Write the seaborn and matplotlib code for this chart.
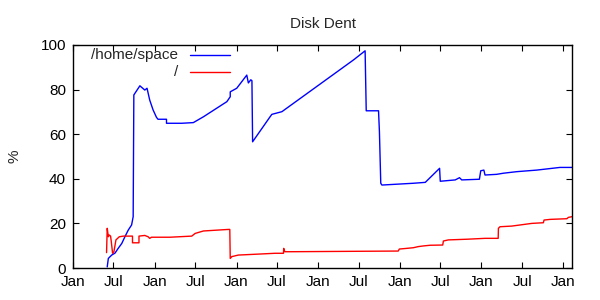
import matplotlib
matplotlib.use("Agg")
import matplotlib.pyplot as plt
import matplotlib.dates as mdates
import pandas as pd
import seaborn as sns

home_dates = ["2007-06-03", "2007-06-08", "2007-06-23", "2007-07-08", "2007-07-22", "2007-08-07",
              "2007-08-21", "2007-09-05", "2007-09-20", "2007-09-27", "2007-09-30", "2007-10-27",
              "2007-11-18", "2007-11-28", "2007-12-10", "2007-12-25", "2008-01-09", "2008-01-16",
              "2008-02-23", "2008-02-23", "2008-05-01", "2008-06-22", "2008-08-06", "2008-11-19",
              "2008-12-04", "2008-12-04", "2009-01-02", "2009-02-16", "2009-02-23", "2009-03-06",
              "2009-03-11", "2009-03-14", "2009-05-31", "2009-06-08", "2009-07-23", "2010-06-08",
              "2010-07-30", "2010-08-04", "2010-09-28", "2010-10-02", "2010-10-08", "2010-10-13",
              "2011-03-03", "2011-04-25", "2011-06-28", "2011-07-01", "2011-09-06", "2011-09-25",
              "2011-10-05", "2011-12-23", "2011-12-29", "2012-01-12", "2012-01-17", "2012-03-09",
              "2012-04-08", "2012-06-07", "2012-09-04", "2012-12-17", "2013-02-08"]
home_vals = [0.5, 4.3, 5.8, 6.7, 8.8, 11.0,
             14.0, 17.0, 19.3, 23.0, 77.6, 81.7,
             79.8, 80.6, 75.3, 70.9, 67.6, 66.7,
             66.7, 64.9, 64.9, 65.2, 67.8, 74.6,
             76.8, 79.0, 80.6, 86.5, 83.0, 84.4,
             84.0, 56.6, 67.8, 68.9, 70.1, 93.3,
             97.4, 70.5, 70.5, 61.1, 38.0, 37.2,
             38.0, 38.4, 44.7, 38.9, 39.5, 40.5,
             39.5, 39.8, 43.6, 43.9, 41.7, 42.0,
             42.5, 43.2, 43.9, 45.1, 45.1]

root_dates = ["2007-05-31", "2007-06-03", "2007-06-08", "2007-06-12", "2007-06-18", "2007-06-21",
              "2007-06-27", "2007-07-03", "2007-07-12", "2007-07-27", "2007-08-14", "2007-09-24",
              "2007-09-24", "2007-10-23", "2007-10-23", "2007-11-18", "2007-12-03", "2007-12-10",
              "2007-12-18", "2008-03-09", "2008-06-15", "2008-06-30", "2008-08-06", "2008-11-26",
              "2008-12-02", "2008-12-04", "2008-12-11", "2009-01-09", "2009-04-23", "2009-06-22",
              "2009-07-30", "2009-07-31", "2009-08-05", "2009-08-29", "2010-07-07", "2010-12-25",
              "2010-12-30", "2011-02-01", "2011-03-03", "2011-03-25", "2011-04-17", "2011-05-17",
              "2011-07-12", "2011-07-15", "2011-08-06", "2011-10-28", "2012-01-17", "2012-03-16",
              "2012-03-17", "2012-03-24", "2012-05-16", "2012-07-22", "2012-08-13", "2012-10-04",
              "2012-10-07", "2012-11-03", "2013-01-17", "2013-01-24", "2013-02-08"]
root_vals = [6.9, 17.8, 14.0, 14.8, 14.3, 12.0,
             6.6, 7.3, 12.6, 14.0, 14.3, 14.3,
             11.3, 11.3, 14.3, 14.6, 14.0, 13.3,
             13.8, 13.8, 14.3, 15.5, 16.6, 17.3,
             17.3, 4.3, 5.1, 5.8, 6.3, 6.6,
             6.6, 8.8, 7.3, 7.3, 7.5, 7.6,
             8.5, 8.8, 9.1, 9.6, 9.9, 10.2,
             10.3, 12.1, 12.6, 12.9, 13.3, 13.3,
             17.8, 18.5, 18.8, 19.7, 20.0, 20.3,
             21.5, 21.8, 22.1, 22.7, 23.0]

series_names = ["/home/space", "/"]
series_colors = ["#0000ff", "#ff0000"]
y_ticks = [0, 20, 40, 60, 80, 100]

sns.set_style("ticks")
plt.rcParams["font.family"] = ["Liberation Sans", "DejaVu Sans"]

fig = plt.figure(figsize=(6, 3), dpi=100)
ax = fig.add_axes([73 / 600, 1 - 268 / 300, (572 - 73) / 600, (268 - 45) / 300])

df_home = pd.DataFrame({"date": pd.to_datetime(home_dates), "pct": home_vals})
df_root = pd.DataFrame({"date": pd.to_datetime(root_dates), "pct": root_vals})

sns.lineplot(data=df_home, x="date", y="pct", ax=ax, color=series_colors[0],
             estimator=None, sort=False, lw=1)
sns.lineplot(data=df_root, x="date", y="pct", ax=ax, color=series_colors[1],
             estimator=None, sort=False, lw=1)

ax.set_xlim(pd.Timestamp("2007-01-01"), pd.Timestamp("2013-02-09"))
ax.set_ylim(0, 100)
ax.set_yticks(y_ticks)
ax.xaxis.set_major_locator(mdates.MonthLocator(bymonth=[1, 7]))
ax.xaxis.set_major_formatter(mdates.DateFormatter("%b"))
ax.tick_params(direction="in", top=True, right=True, length=4, width=0.8,
               labelsize=11, colors="black", pad=5)
for s in ax.spines.values():
    s.set_visible(True)
    s.set_linewidth(1)
    s.set_color("black")

ax.set_xlabel("")
ax.set_ylabel("%", fontsize=11)
ax.yaxis.set_label_coords(-0.104, 0.5)
ax.set_title("Disk Dent", fontsize=11, pad=12)

# key (legend) in gnuplot style: label right-aligned, then line sample
key_y = [0.955, 0.879]
for name, col, ky in zip(series_names, series_colors, key_y):
    ax.text(0.21, ky, name, transform=ax.transAxes, ha="right", va="center", fontsize=11)
    ax.plot([0.2345, 0.3146], [ky, ky], transform=ax.transAxes, color=col, lw=1)

fig.savefig("out.png", dpi=100)
